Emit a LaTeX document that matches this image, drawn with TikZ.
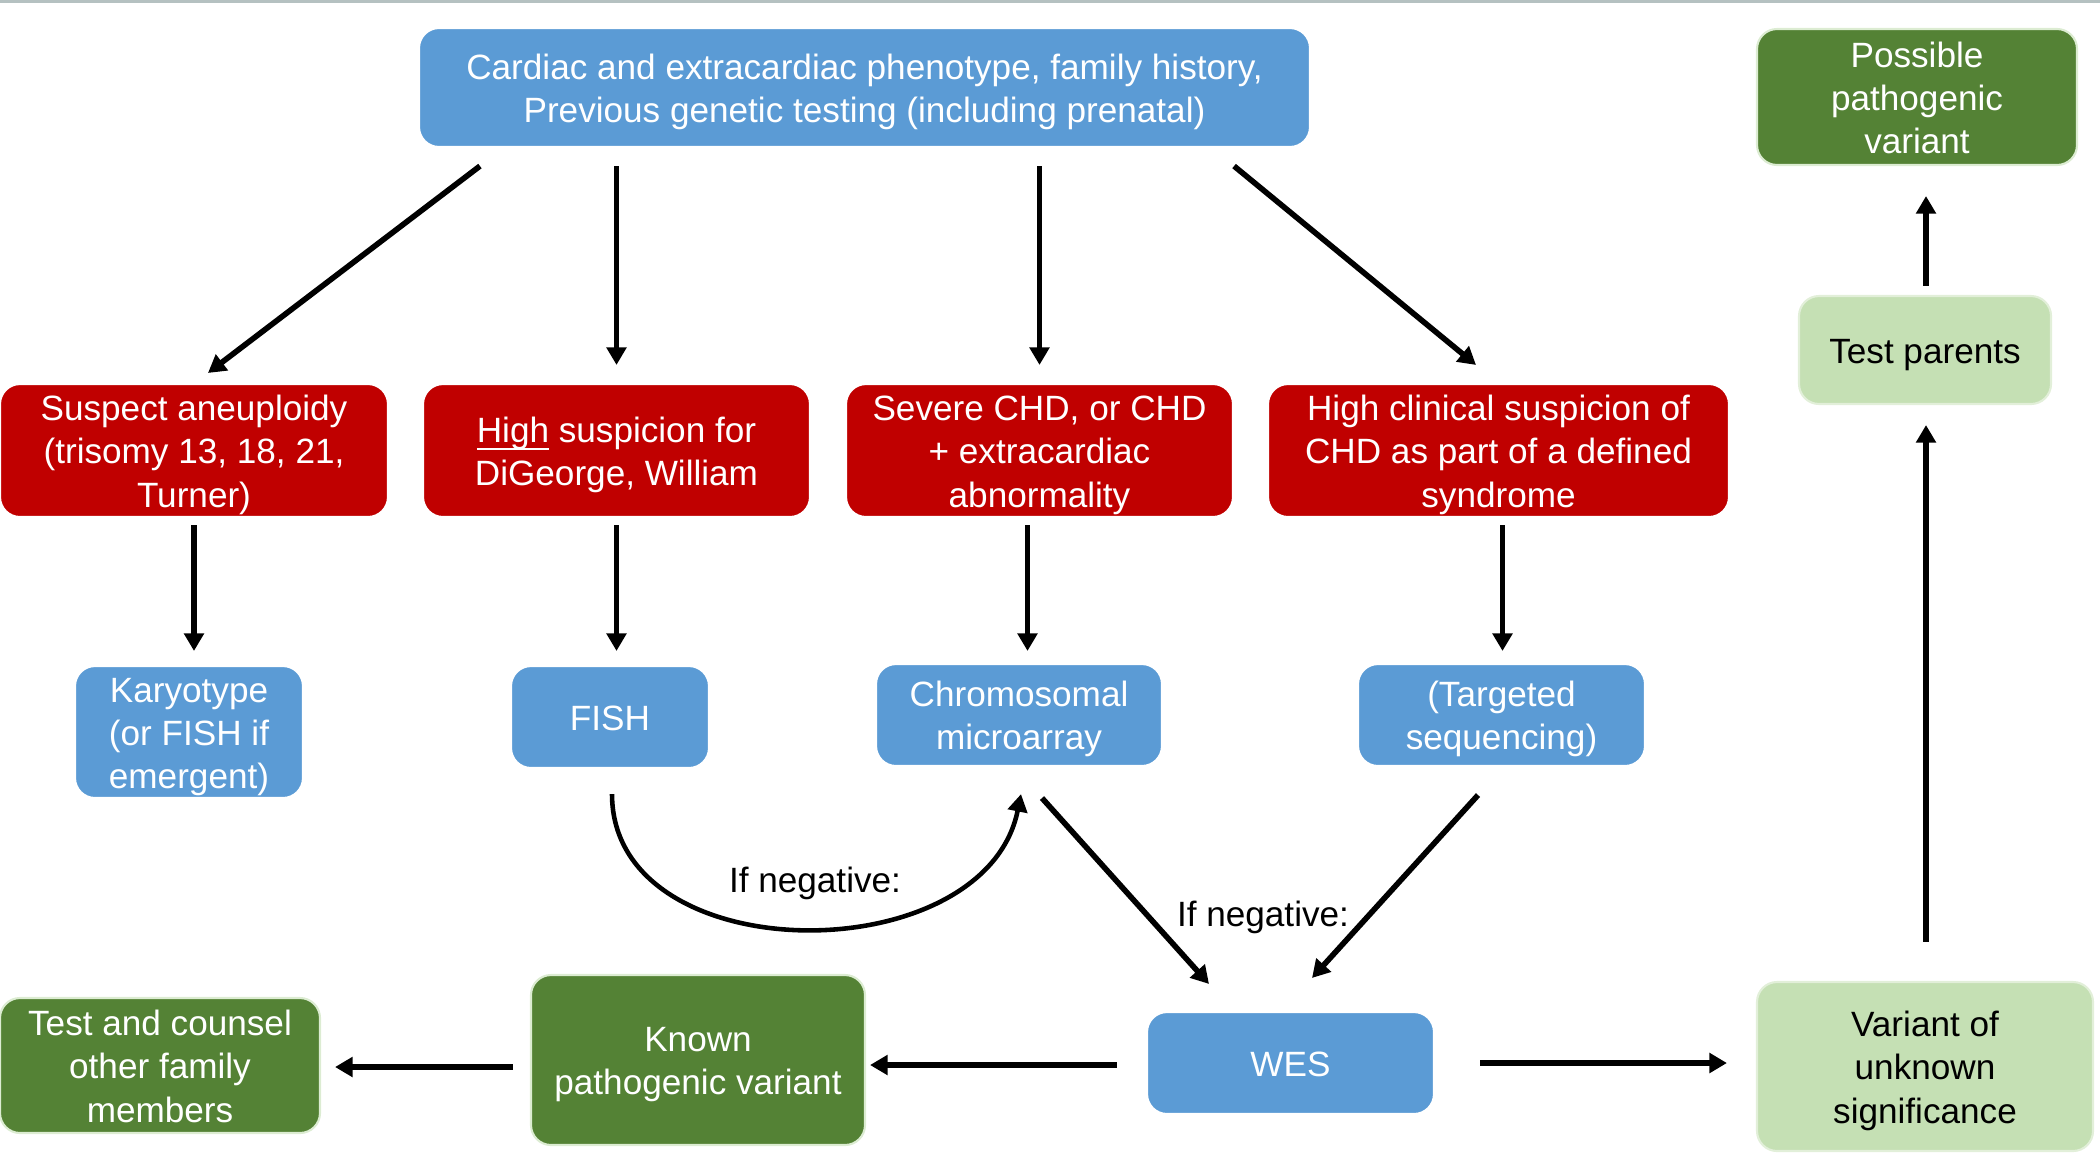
\documentclass[tikz,border=0pt]{standalone}
\usepackage{fontspec}
\setmainfont{Liberation Sans}
\usetikzlibrary{arrows.meta,calc}
\definecolor{cblue}{HTML}{5B9BD5}
\definecolor{cred}{HTML}{C00000}
\definecolor{cdgreen}{HTML}{548235}
\definecolor{clgreen}{HTML}{C5E0B4}
\definecolor{cgrayline}{HTML}{B5C1C1}
\newcommand\myul[1]{\setbox0\hbox{#1}\rlap{\rule[-2.1pt]{\wd0}{0.6pt}}\box0}
\newcommand\sA{\rule{0pt}{9.8pt}}
\newcommand\sB{\rule[-2.2pt]{0pt}{0pt}}
\begin{document}
\begin{tikzpicture}[x=0.1mm,y=-0.1mm,
  box/.style={rounded corners=2mm, inner sep=0pt, align=center,
    font=\fontsize{10}{12.3}\selectfont, text=white, line width=0.6pt},
  bluebox/.style={box, fill=cblue, draw=white},
  redbox/.style={box, fill=cred, draw=white},
  dgbox/.style={box, fill=cdgreen, draw=clgreen!60!white},
  lgbox/.style={box, fill=clgreen, draw=clgreen!50!white, text=black},
  lbl/.style={font=\fontsize{10}{12}\selectfont, text=black, inner sep=0pt},
  arr/.style={line width=1.6pt, -{Triangle[length=5pt,width=5.5pt]}},
  carr/.style={line width=1.3pt, -{Triangle[length=5pt,width=5.5pt]}},
]
\useasboundingbox (0,0) rectangle (2100,1153);
\fill[cgrayline] (0,0) rectangle (2100,3);

% nodes
\node[bluebox, minimum width=89.1mm, minimum height=11.9mm] (top) at (864.5,87.5)
  {\sA Cardiac and extracardiac phenotype, family history,\\Previous genetic testing (including prenatal)\sB};

\node[redbox, minimum width=38.8mm, minimum height=13.3mm] (red1) at (194,450.5)
  {\sA Suspect aneuploidy\\(trisomy 13, 18, 21,\\Turner)\sB};
\node[redbox, minimum width=38.7mm, minimum height=13.3mm] (red2) at (616.5,450.5)
  {\sA\myul{High}\ suspicion for\\DiGeorge, William\sB};
\node[redbox, minimum width=38.7mm, minimum height=13.3mm] (red3) at (1039.5,450.5)
  {\sA Severe CHD, or CHD\\+ extracardiac\\abnormality\sB};
\node[redbox, minimum width=46.1mm, minimum height=13.3mm] (red4) at (1498.5,450.5)
  {\sA High clinical suspicion of\\CHD as part of a defined\\syndrome\sB};

\node[bluebox, minimum width=22.8mm, minimum height=13.2mm] (kary) at (189,732)
  {\sA Karyotype\\(or FISH if\\emergent)\sB};
\node[bluebox, minimum width=19.8mm, minimum height=10.2mm] (fish) at (610,717) {\sA FISH\sB};
\node[bluebox, minimum width=28.6mm, minimum height=10.2mm] (chrom) at (1019,715)
  {\sA Chromosomal\\microarray\sB};
\node[bluebox, minimum width=28.7mm, minimum height=10.2mm] (targ) at (1501.5,715)
  {\sA(Targeted\\sequencing)\sB};

\node[bluebox, minimum width=28.7mm, minimum height=10.2mm] (wes) at (1290.5,1063) {\sA WES\sB};
\node[dgbox, minimum width=33.4mm, minimum height=17mm] (known) at (698,1060)
  {\sA Known\\pathogenic variant\sB};
\node[dgbox, minimum width=32mm, minimum height=13.5mm] (counsel) at (160,1065.5)
  {\sA Test and counsel\\other family\\members\sB};
\node[lgbox, minimum width=33.6mm, minimum height=16.9mm] (vus) at (1925,1066.5)
  {\sA Variant of\\unknown\\significance\sB};
\node[lgbox, minimum width=25.2mm, minimum height=10.8mm] (parents) at (1925,350)
  {\sA Test parents\sB};
\node[dgbox, minimum width=32mm, minimum height=13.6mm] (possible) at (1917,97)
  {\sA Possible\\pathogenic\\variant\sB};

\node[lbl] (neg1) at (815,883) {If negative:};
\node[lbl] (neg2) at (1263,917) {If negative:};

% connectors from the top box
\draw[arr] ($(top.south west)+(62,18)$) -- ($(red1.north)+(14,-10)$);
\draw[arr] ($(top.south -| red2.north)+(0,18)$) -- ($(red2.north)+(0,-18)$);
\draw[arr] ($(top.south -| red3.north)+(0,18)$) -- ($(red3.north)+(0,-18)$);
\draw[arr] ($(top.south east)+(-77,18)$) -- ($(red4.north)+(-22.5,-18)$);

% red to tests
\draw[arr] ($(red1.south)+(0,7)$) -- ($(red1.south |- kary.north)+(0,-14)$);
\draw[arr] ($(red2.south)+(0,7)$) -- ($(red2.south |- fish.north)+(0,-14)$);
\draw[arr] ($(red3.south)+(-12,7)$) -- ($(red3.south |- chrom.north)+(-12,-12)$);
\draw[arr] ($(red4.south)+(4,7)$) -- ($(red4.south |- targ.north)+(4,-12)$);

% FISH -> microarray
\draw[carr] ($(fish.south)+(2,25)$) .. controls ($(fish.south)+(2,204)$) and ($(chrom.south)+(-34,206)$) .. ($(chrom.south)+(2,27)$);

% to WES
\draw[arr] ($(chrom.south)+(23,31)$) -- ($(wes.north)+(-81.5,-27)$);
\draw[arr] ($(targ.south)+(-23.5,28)$) -- ($(wes.north)+(21.5,-33)$);

% bottom row
\draw[arr] ($(wes.west)+(-29,2)$) -- ($(known.east |- wes.west)+(4,2)$);
\draw[arr] ($(known.west)+(-17,7)$) -- ($(counsel.east |- known.west)+(14,7)$);
\draw[arr] ($(wes.east)+(45,0)$) -- ($(vus.west |- wes.east)+(-29,0)$);

% right column
\draw[arr] ($(vus.north)+(1,-39)$) -- ($(parents.south)+(1,20)$);
\draw[arr] ($(parents.north)+(1,-9)$) -- ($(parents.north |- possible.south)+(1,30)$);
\end{tikzpicture}
\end{document}
